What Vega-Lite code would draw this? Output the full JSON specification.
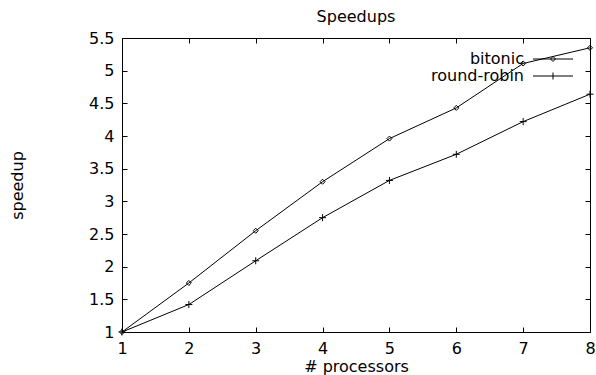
{
  "$schema": "https://vega.github.io/schema/vega-lite/v6.json",
  "width": 468,
  "height": 294,
  "autosize": {"type": "none"},
  "padding": {"left": 122, "top": 38, "right": 6, "bottom": 43},
  "title": {"text": "Speedups", "fontSize": 16, "font": "DejaVu Sans", "fontWeight": "normal", "color": "black", "offset": 5, "anchor": "middle"},
  "config": {
    "view": {"stroke": "black", "strokeWidth": 1},
    "axis": {"domain": false, "grid": false, "tickSize": -5, "tickColor": "black", "tickWidth": 1, "labelColor": "black", "labelFont": "DejaVu Sans", "labelFontSize": 16, "labelPadding": 13, "labelFlush": false, "labelOverlap": false, "titleFont": "DejaVu Sans", "titleFontSize": 16, "titleFontWeight": "normal", "titleColor": "black"}
  },
  "data": {"values": [
    {"p": 1, "s": 1.0, "method": "bitonic"},
    {"p": 2, "s": 1.75, "method": "bitonic"},
    {"p": 3, "s": 2.55, "method": "bitonic"},
    {"p": 4, "s": 3.3, "method": "bitonic"},
    {"p": 5, "s": 3.96, "method": "bitonic"},
    {"p": 6, "s": 4.43, "method": "bitonic"},
    {"p": 7, "s": 5.11, "method": "bitonic"},
    {"p": 8, "s": 5.35, "method": "bitonic"},
    {"p": 1, "s": 1.0, "method": "round-robin"},
    {"p": 2, "s": 1.42, "method": "round-robin"},
    {"p": 3, "s": 2.09, "method": "round-robin"},
    {"p": 4, "s": 2.75, "method": "round-robin"},
    {"p": 5, "s": 3.32, "method": "round-robin"},
    {"p": 6, "s": 3.72, "method": "round-robin"},
    {"p": 7, "s": 4.22, "method": "round-robin"},
    {"p": 8, "s": 4.64, "method": "round-robin"}
  ]},
  "layer": [
    {
      "mark": {"type": "line", "color": "black", "strokeWidth": 1},
      "encoding": {
        "x": {"field": "p", "type": "quantitative", "scale": {"domain": [1, 8], "nice": false, "zero": false},
              "axis": {"orient": "bottom", "values": [1, 2, 3, 4, 5, 6, 7, 8], "format": "d", "title": "# processors", "titlePadding": 2}},
        "y": {"field": "s", "type": "quantitative", "scale": {"domain": [1, 5.5], "nice": false, "zero": false},
              "axis": {"orient": "left", "values": [1, 1.5, 2, 2.5, 3, 3.5, 4, 4.5, 5, 5.5], "format": "~g", "title": "speedup", "titlePadding": 63}},
        "detail": {"field": "method", "type": "nominal"}
      }
    },
    {
      "mark": {"type": "point", "filled": false, "stroke": "black", "strokeWidth": 1, "opacity": 1, "size": 49},
      "encoding": {
        "x": {"field": "p", "type": "quantitative",
              "axis": {"orient": "top", "values": [1, 2, 3, 4, 5, 6, 7, 8], "labels": false, "title": null}},
        "y": {"field": "s", "type": "quantitative",
              "axis": {"orient": "right", "values": [1, 1.5, 2, 2.5, 3, 3.5, 4, 4.5, 5, 5.5], "labels": false, "title": null}},
        "shape": {"field": "method", "type": "nominal",
                  "scale": {"domain": ["bitonic", "round-robin"], "range": ["M0,-0.72L0.72,0L0,0.72L-0.72,0Z", "M-1,0L1,0M0,-1L0,1"]},
                  "legend": null}
      }
    },
    {
      "mark": {"type": "point", "filled": false, "stroke": "black", "strokeWidth": 1, "opacity": 0, "size": 100},
      "encoding": {
        "x": {"field": "p", "type": "quantitative", "axis": null},
        "y": {"field": "s", "type": "quantitative", "axis": null},
        "shape": {"field": "method", "type": "nominal",
                  "scale": {"domain": ["bitonic", "round-robin"], "range": ["M-4,0L4,0M0,-0.5L0.5,0L0,0.5L-0.5,0Z", "M-4,0L4,0M0,-0.7L0,0.7"]},
                  "legend": {"title": null, "orient": "none", "legendX": 423, "legendY": 13, "labelAlign": "right", "labelOffset": -37,
                             "labelFont": "DejaVu Sans", "labelFontSize": 16, "labelColor": "black", "symbolSize": 100, "rowPadding": 1,
                             "symbolOpacity": 1, "symbolStrokeColor": "black", "symbolFillColor": "transparent", "symbolStrokeWidth": 1}}
      }
    }
  ],
  "resolve": {"axis": {"x": "independent", "y": "independent"}, "scale": {"shape": "independent"}}
}
